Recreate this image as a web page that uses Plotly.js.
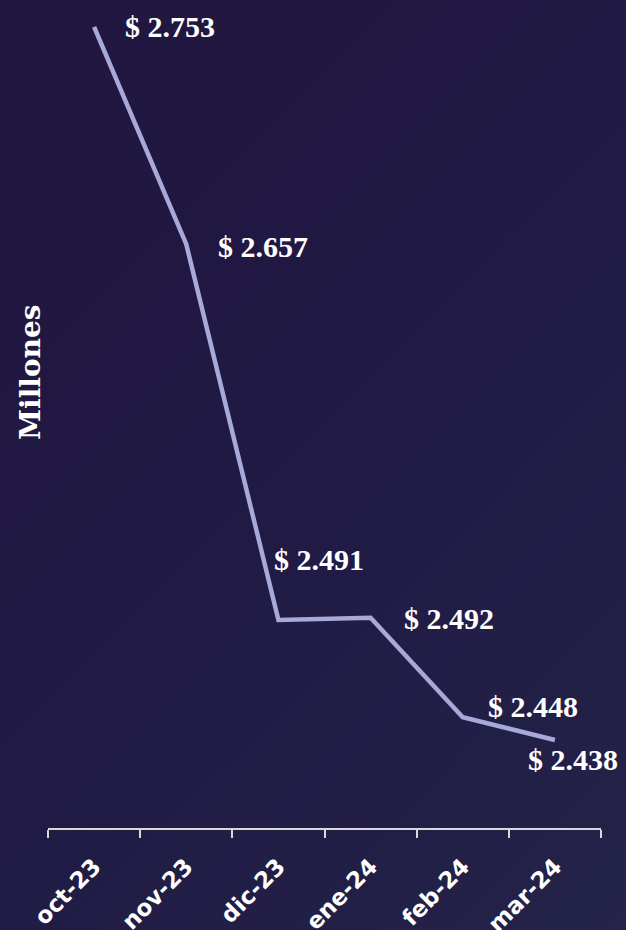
<!DOCTYPE html>
<html>
<head>
<meta charset="utf-8">
<script src="https://cdn.plot.ly/plotly-3.0.1.min.js"></script>
<style>
html,body{margin:0;padding:0;width:626px;height:930px;overflow:hidden;
background:linear-gradient(135deg,#21163f 0%,#201a44 50%,#242349 100%);}
#chart{width:626px;height:930px;}
</style>
</head>
<body>
<div id="chart"></div>
<script>
const months = ["oct-23","nov-23","dic-23","ene-24","feb-24","mar-24"];
const values = [2.753, 2.657, 2.491, 2.492, 2.448, 2.438];
const valueLabels = ["$ 2.753","$ 2.657","$ 2.491","$ 2.492","$ 2.448","$ 2.438"];
const yTitle = "Millones";
const labelShiftX = [76, 77, 41, 78, 70, 18];
const labelShiftY = [0, -2, 60, -1, 11, -20];

const trace = {
  x: months, y: values, type: "scatter", mode: "lines",
  line: {color: "#a7a9d8", width: 4.5}, hoverinfo: "skip"
};
const annotations = months.map((m, i) => ({
  x: m, y: values[i], xref: "x", yref: "y", text: valueLabels[i],
  showarrow: false, xanchor: "center", yanchor: "middle",
  xshift: labelShiftX[i], yshift: labelShiftY[i],
  font: {family: "Liberation Serif, serif", size: 30, color: "#ffffff", weight: "bold"}
}));
annotations.push({
  x: 0, y: (828 - 372) / 828, xref: "paper", yref: "paper", text: yTitle,
  showarrow: false, textangle: -90, xanchor: "center", yanchor: "middle", xshift: -18,
  font: {family: "DejaVu Serif, serif", size: 28, color: "#ffffff", weight: "bold"}
});
const layout = {
  width: 626, height: 930,
  paper_bgcolor: "rgba(0,0,0,0)", plot_bgcolor: "rgba(0,0,0,0)",
  margin: {l: 48, r: 25, t: 0, b: 102},
  showlegend: false,
  xaxis: {
    type: "category", range: [-0.5, 5.5], tickson: "boundaries",
    showline: true, linecolor: "#d9d9d9", linewidth: 2,
    ticks: "outside", ticklen: 8, tickwidth: 2, tickcolor: "#d9d9d9",
    tickangle: -45, showgrid: false, zeroline: false,
    ticklabelstandoff: 14,
    tickfont: {family: "DejaVu Sans, sans-serif", size: 23, color: "#ffffff", weight: "bold"},
    fixedrange: true
  },
  yaxis: {
    range: [2.3991, 2.7649], showticklabels: false, showgrid: false,
    zeroline: false, showline: false, ticks: "", fixedrange: true
  },
  annotations: annotations
};
Plotly.newPlot("chart", [trace], layout, {displayModeBar: false, staticPlot: true});
</script>
</body>
</html>
